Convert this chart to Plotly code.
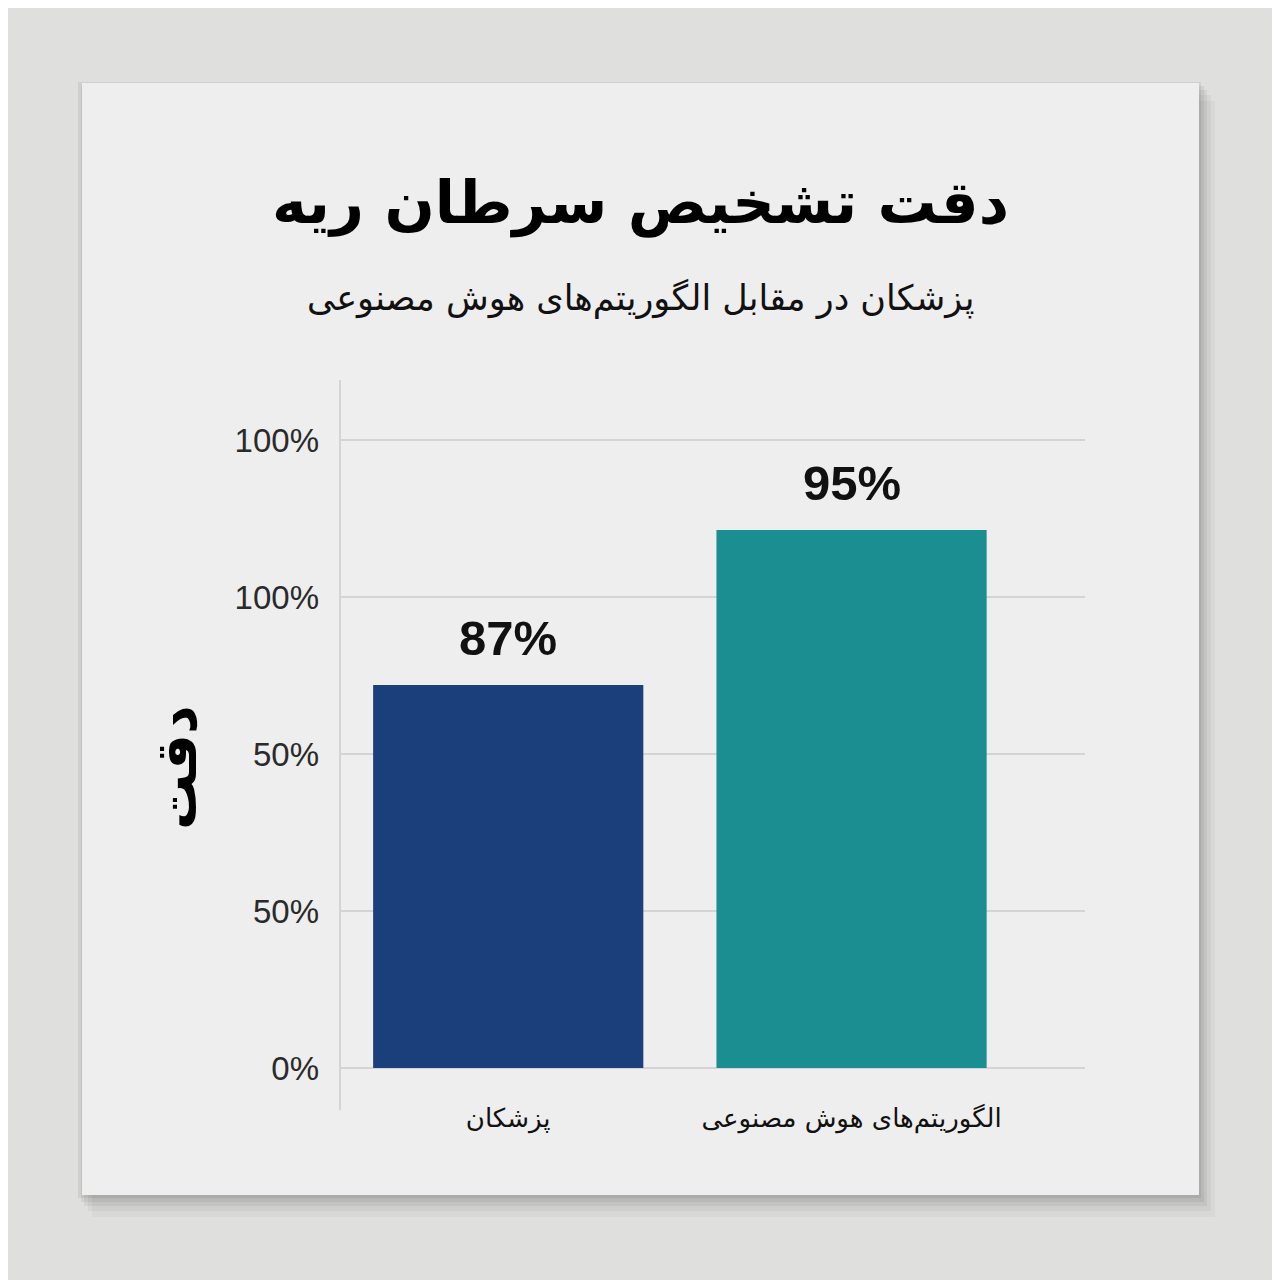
import plotly.graph_objects as go

# ---- data ----
categories = ["پزشکان", "الگوریتم‌های هوش مصنوعی"]
bar_heights = [61.0, 85.7]          # drawn heights on the chart's own scale
bar_labels = ["87%", "95%"]          # value labels as printed
bar_colors = ["#1a3f7b", "#1a8e91"]
tick_vals = [0, 25, 50, 75, 100]
tick_text = ["0%", "50%", "50%", "100%", "100%"]

title = "دقت تشخیص سرطان ریه"
subtitle = "پزشکان در مقابل الگوریتم‌های هوش مصنوعی"
y_title = "دقت"

W, H = 1280, 1280
OFF = 8  # page body margin
L, T = 340 - OFF, 380 - OFF
R, B = W - (1085 - OFF), H - (1068 - OFF)
pw, ph = W - L - R, H - T - B


def px(x):
    return (x - OFF - L) / pw


def py(y):
    return (H - B - (y - OFF)) / ph


fig = go.Figure()
fig.add_trace(go.Bar(
    x=categories, y=bar_heights,
    marker=dict(color=bar_colors, line=dict(width=0)),
    width=0.787,
    hoverinfo="skip",
))

for c, v, t in zip(categories, bar_heights, bar_labels):
    fig.add_annotation(x=c, y=v, text=f"<b>{t}</b>", showarrow=False,
                       yanchor="middle", yshift=47,
                       font=dict(family="Liberation Sans", size=49, color="#111111"))

shapes = []
# soft shadow layers
for dx, dy, op in [(16, 22, 0.03), (12, 16, 0.04), (8, 11, 0.05), (5, 7, 0.06), (2, 3, 0.07)]:
    shapes.append(dict(type="rect", xref="paper", yref="paper",
                       x0=px(82 + dx - 6), x1=px(1199 + dx), y0=py(1195 + dy), y1=py(83 + dy - 4),
                       fillcolor=f"rgba(0,0,0,{op})", line=dict(width=0), layer="below"))
# card
shapes.append(dict(type="rect", xref="paper", yref="paper",
                   x0=px(82), x1=px(1199), y0=py(1195), y1=py(83),
                   fillcolor="#eeeeee", line=dict(width=0), layer="below"))
# vertical axis line
shapes.append(dict(type="line", xref="paper", yref="paper",
                   x0=0, x1=0, y0=py(1110), y1=py(380),
                   line=dict(color="#d4d4d4", width=2), layer="below"))

fig.update_layout(
    width=W, height=H,
    margin=dict(l=L, r=R, t=T, b=B),
    paper_bgcolor="#dfdfdd",
    plot_bgcolor="rgba(0,0,0,0)",
    showlegend=False,
    shapes=shapes,
)

fig.add_annotation(xref="paper", yref="paper", x=px(640), y=py(203), text=f"<b>{title}</b>",
                   showarrow=False, xanchor="center", yanchor="middle",
                   font=dict(family="DejaVu Sans", size=59, color="#000000"))
fig.add_annotation(xref="paper", yref="paper", x=px(640), y=py(298), text=subtitle,
                   showarrow=False, xanchor="center", yanchor="middle",
                   font=dict(family="DejaVu Sans", size=35, color="#111111"))
fig.add_annotation(xref="paper", yref="paper", x=px(176), y=py(768), text=f"<b>{y_title}</b>",
                   showarrow=False, xanchor="center", yanchor="middle", textangle=-90,
                   font=dict(family="DejaVu Sans", size=56, color="#000000"))

fig.update_xaxes(
    range=[-0.49, 1.68], showgrid=False, zeroline=False, showline=False,
    ticks="outside", ticklen=0, ticklabelstandoff=27,
    tickfont=dict(family="DejaVu Sans", size=26, color="#111111"),
)
fig.update_yaxes(
    range=[0, 109.6], tickvals=tick_vals, ticktext=tick_text,
    showgrid=True, gridcolor="#d4d4d4", gridwidth=2,
    zeroline=True, zerolinecolor="#d4d4d4", zerolinewidth=2,
    showline=False, ticks="", ticklabelstandoff=20,
    tickfont=dict(family="Liberation Sans", size=33, color="#2a2a2a"),
)

fig.write_html("out.html")
